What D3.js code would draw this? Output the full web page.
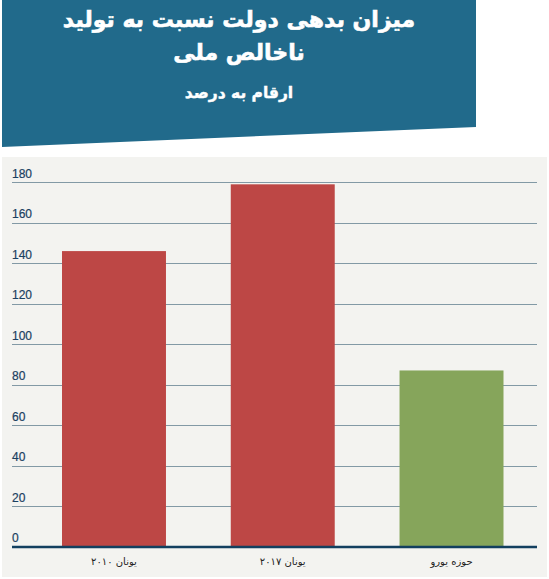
<!DOCTYPE html>
<html>
<head>
<meta charset="utf-8">
<script src="https://cdn.jsdelivr.net/npm/d3@7"></script>
<style>
  body { margin: 0; background: #fff; }
  svg { display: block; }
</style>
</head>
<body>
<div id="chart"></div>
<script>
const categories = ["یونان ۲۰۱۰", "یونان ۲۰۱۷", "حوزه یورو"];
const values = [146, 179, 87];
const barColors = ["#bd4745", "#bd4745", "#86a55b"];
const yTicks = [0, 20, 40, 60, 80, 100, 120, 140, 160, 180];
const titleLines = ["میزان بدهی دولت نسبت به تولید", "ناخالص ملی"];
const subtitle = "ارقام به درصد";

const width = 549;
const height = 579;

const svg = d3.select("#chart").append("svg")
  .attr("width", width)
  .attr("height", height);

// header banner with slanted bottom edge
svg.append("path")
  .attr("d", "M2,0 L476,0 L476,127 L2,147 Z")
  .attr("fill", "#216a8b");

svg.selectAll("text.title")
  .data(titleLines)
  .enter()
  .append("text")
  .attr("class", "title")
  .attr("x", 239)
  .attr("y", (d, i) => 27 + i * 33)
  .attr("text-anchor", "middle")
  .attr("direction", "rtl")
  .style("font-family", "'DejaVu Sans', sans-serif")
  .style("font-weight", "bold")
  .style("font-size", "22px")
  .style("fill", "#fff")
  .style("stroke", "#fff")
  .style("stroke-width", 0.6)
  .text(d => d);

svg.append("text")
  .attr("x", 239)
  .attr("y", 98)
  .attr("text-anchor", "middle")
  .attr("direction", "rtl")
  .style("font-family", "'DejaVu Sans', sans-serif")
  .style("font-weight", "bold")
  .style("font-size", "15.5px")
  .style("fill", "#fff")
  .style("stroke", "#fff")
  .style("stroke-width", 0.4)
  .text(subtitle);

// chart panel
svg.append("rect")
  .attr("x", 2)
  .attr("y", 157)
  .attr("width", 545)
  .attr("height", 420)
  .attr("fill", "#f3f3f0");

const y = d3.scaleLinear().domain([0, 180]).range([546.5, 182.3]);

const x = d3.scaleBand()
  .domain(categories)
  .range([29.6, 535.9])
  .paddingInner(0.384)
  .paddingOuter(0.192);

const gridLeft = 12;
const gridRight = 537;

const grid = svg.append("g");
grid.selectAll("line")
  .data(yTicks.filter(d => d > 0))
  .enter()
  .append("line")
  .attr("x1", gridLeft)
  .attr("x2", gridRight)
  .attr("y1", d => Math.round(y(d)) + 0.5)
  .attr("y2", d => Math.round(y(d)) + 0.5)
  .attr("stroke", "#8299a5")
  .attr("stroke-width", 1);

svg.selectAll("rect.bar")
  .data(values)
  .enter()
  .append("rect")
  .attr("class", "bar")
  .attr("x", (d, i) => x(categories[i]))
  .attr("y", d => y(d))
  .attr("width", x.bandwidth())
  .attr("height", d => y(0) - y(d))
  .attr("fill", (d, i) => barColors[i]);

// y labels sit above their gridline
svg.selectAll("text.ytick")
  .data(yTicks)
  .enter()
  .append("text")
  .attr("class", "ytick")
  .attr("x", gridLeft)
  .attr("y", d => y(d) - 4.5)
  .style("font-family", "'Liberation Sans', Arial, sans-serif")
  .style("font-size", "12px")
  .style("fill", "#1a4060")
  .style("stroke", "#1a4060")
  .style("stroke-width", 0.2)
  .text(d => d);

// baseline
svg.append("line")
  .attr("x1", gridLeft)
  .attr("x2", gridRight)
  .attr("y1", y(0) + 0.5)
  .attr("y2", y(0) + 0.5)
  .attr("stroke", "#123f5f")
  .attr("stroke-width", 2.5);

const xAxis = svg.append("g")
  .attr("transform", `translate(0,${y(0) + 1})`)
  .call(d3.axisBottom(x).tickSize(0).tickPadding(10));
xAxis.select(".domain").remove();
xAxis.selectAll("text")
  .attr("direction", "rtl")
  .style("font-family", "'DejaVu Sans', sans-serif")
  .style("font-size", "10px")
  .style("fill", "#222");
</script>
</body>
</html>
